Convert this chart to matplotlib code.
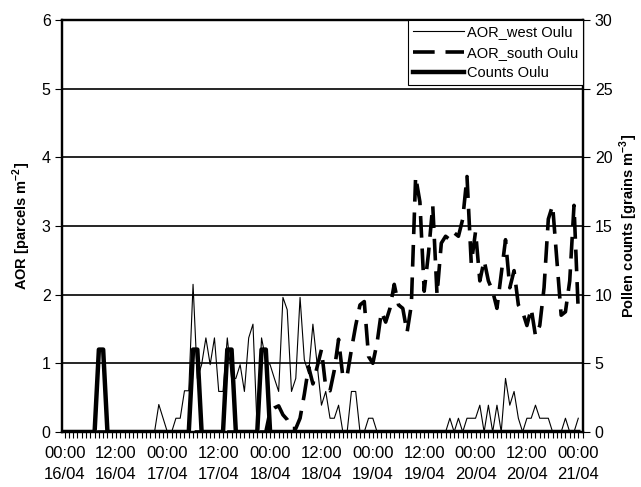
import numpy as np
import matplotlib.pyplot as plt
from matplotlib.ticker import MultipleLocator

plt.rcParams['font.family'] = ['Liberation Sans', 'DejaVu Sans']

# hourly values, 16/04 00:00 .. 21/04 00:00 (121 points)
aor_west = [
    0, 0, 0, 0, 0, 0, 0, 0, 0, 0,
    0, 0, 0, 0, 0, 0, 0, 0, 0, 0,
    0, 0, 0.4, 0.2, 0, 0, 0.2, 0.2, 0.6, 0.6,
    2.15, 0.78, 0.98, 1.37, 0.98, 1.37, 0.59, 0.59, 1.37, 0.78,
    0.78, 0.98, 0.59, 1.37, 1.57, 0, 1.37, 1.05, 0.98, 0.78,
    0.59, 1.96, 1.78, 0.59, 0.78, 1.96, 1.05, 0.85, 1.57, 0.98,
    0.39, 0.59, 0.2, 0.2, 0.39, 0, 0, 0.59, 0.59, 0,
    0, 0.2, 0.2, 0, 0, 0, 0, 0, 0, 0,
    0, 0, 0, 0, 0, 0, 0, 0, 0, 0,
    0.2, 0, 0.2, 0, 0.2, 0.2, 0.2, 0.39, 0, 0.39,
    0, 0.39, 0, 0.78, 0.39, 0.59, 0.2, 0, 0.2, 0.2,
    0.39, 0.2, 0.2, 0.2, 0, 0, 0, 0.2, 0, 0,
    0.2,
]

aor_south = [
    0, 0, 0, 0, 0, 0, 0, 0, 0, 0,
    0, 0, 0, 0, 0, 0, 0, 0, 0, 0,
    0, 0, 0, 0, 0, 0, 0, 0, 0, 0,
    0, 0, 0, 0, 0, 0, 0, 0, 0, 0,
    0, 0, 0, 0, 0, 0, 0, 0, 0.3, 0.35,
    0.38, 0.25, 0.18, 0.05, 0.05, 0.2, 0.55, 0.95, 0.7, 0.95,
    1.2, 0.65, 0.6, 0.9, 1.35, 0.8, 0.82, 1.2, 1.55, 1.85,
    1.9, 1.1, 1.0, 1.3, 1.75, 1.6, 1.8, 2.15, 1.85, 1.8,
    1.45, 1.85, 3.72, 3.35, 2.05, 2.6, 3.3, 2.0, 2.75, 2.85,
    2.8, 2.9, 2.85, 3.1, 3.72, 2.45, 2.92, 2.2, 2.5, 2.2,
    2.05, 1.8, 2.3, 2.8, 2.1, 2.35, 1.85, 1.75, 1.55, 1.8,
    1.4, 1.55, 2.1, 3.1, 3.3, 2.5, 1.7, 1.75, 2.2, 3.3,
    1.75,
]

counts = [0] * 121
for h in [8, 9, 30, 31, 38, 39, 46, 47]:
    counts[h] = 6

tick_labels = ["00:00\n16/04", "12:00\n16/04", "00:00\n17/04", "12:00\n17/04",
               "00:00\n18/04", "12:00\n18/04", "00:00\n19/04", "12:00\n19/04",
               "00:00\n20/04", "12:00\n20/04", "00:00\n21/04"]

hours = np.arange(len(aor_west))

fig = plt.figure(figsize=(6.41, 4.87), dpi=100)
ax = fig.add_axes([0.0975, 0.113, 0.812, 0.846])
ax2 = ax.twinx()

for y in [1, 2, 3, 4, 5]:
    ax.axhline(y, color="black", lw=1.2, zorder=0)

l1, = ax.plot(hours, aor_west, color="black", lw=0.8, label="AOR_west Oulu")
l2, = ax.plot(hours, aor_south, color="black", lw=2.6, dashes=(6, 3),
              dash_capstyle="butt", label="AOR_south Oulu")
l3, = ax2.plot(hours, counts, color="black", lw=3.2, solid_joinstyle="round",
               label="Counts Oulu")

ax.set_xlim(-0.5, 121.1)
ax.set_ylim(0, 6)
ax2.set_ylim(0, 30)
ax.yaxis.set_major_locator(MultipleLocator(1))
ax2.yaxis.set_major_locator(MultipleLocator(5))

ax.set_xticks(np.arange(0, 121, 12))
ax.set_xticklabels(tick_labels, linespacing=1.5)
ax.xaxis.set_minor_locator(MultipleLocator(1))
ax.tick_params(axis="x", which="both", direction="out", length=4, width=0.8,
               labelsize=12, pad=6)
ax.tick_params(axis="y", direction="out", length=5, width=0.8, labelsize=11.5)
ax2.tick_params(axis="y", direction="out", length=5, width=0.8, labelsize=11.5)

for a in (ax, ax2):
    for s in a.spines.values():
        s.set_linewidth(1.6)

ax.set_ylabel("AOR [parcels m$^{\\mathregular{-2}}$]", fontsize=10.5,
              fontweight="bold", labelpad=6)
ax2.set_ylabel("Pollen counts [grains m$^{\\mathregular{-3}}$]", fontsize=10.5,
               fontweight="bold", labelpad=4)

leg = ax2.legend(handles=[l1, l2, l3], loc="upper right",
                 bbox_to_anchor=(1.0, 1.0), borderaxespad=0, fontsize=10.5,
                 fancybox=False, framealpha=1, edgecolor="black",
                 handlelength=3.5, handletextpad=0.2, borderpad=0.35,
                 labelspacing=0.45)
leg.get_frame().set_linewidth(0.8)

fig.savefig("out.png", dpi=100)
